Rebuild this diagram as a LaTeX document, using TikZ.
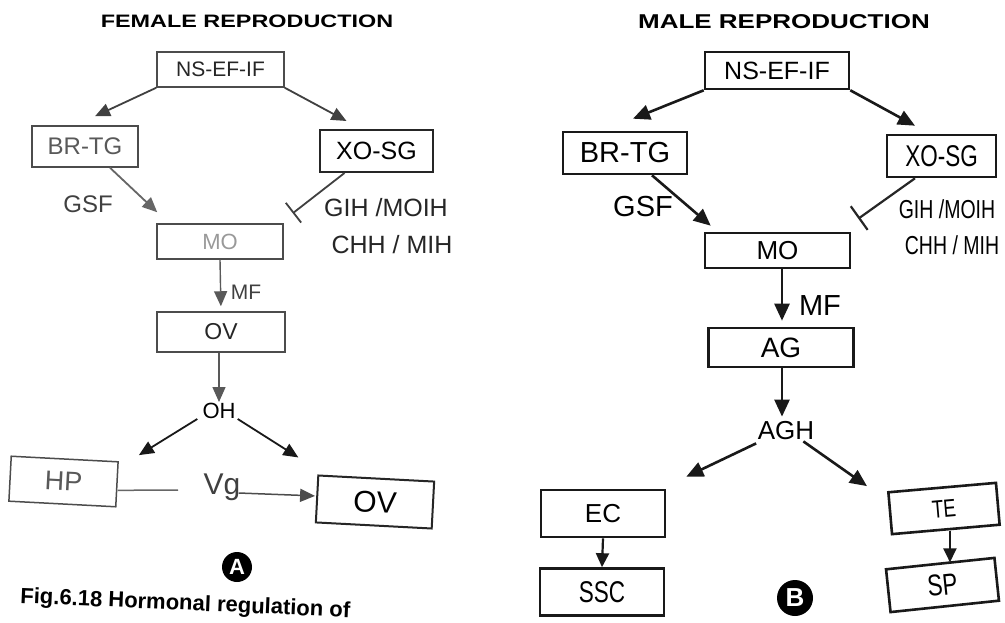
\documentclass[tikz,border=0pt]{standalone}
\usepackage{fontspec}
\setmainfont{Liberation Sans}
\newfontfamily\titlefont{Liberation Sans}[FakeStretch=1.3]
\newfontfamily\narrowfont{Liberation Sans}[FakeStretch=0.75]
\usetikzlibrary{arrows.meta,calc}
\newcommand\myfs[1]{\fontsize{#1}{#1}\selectfont}
\begin{document}
\begin{tikzpicture}[x=1pt,y=-1pt,
  fbox/.style={draw=black!70, line width=1.5pt, inner sep=0pt, text=black!85},
  mbox/.style={draw=black!90, line width=2.6pt, inner sep=0pt, text=black},
  lbl/.style={inner sep=0pt},
  farr/.style={draw=black!75, line width=1.8pt, -{Triangle[length=15pt,width=13pt]}},
  marr/.style={draw=black!90, line width=2.6pt, -{Triangle[length=17pt,width=15pt]}},
  finh/.style={draw=black!75, line width=1.8pt, -{Bar[width=25pt,line width=1.8pt]}},
  minh/.style={draw=black!85, line width=2.2pt, -{Bar[width=29pt,line width=2.2pt]}},
  badge/.style={circle, fill=black, inner sep=0pt, text=white, font=\bfseries\myfs{22}},
]
\useasboundingbox[fill=white] (0,0) rectangle (1005,623);

% ---------------- FEMALE ----------------
\node[lbl, font=\titlefont\bfseries\myfs{18}] (ftitle) at (247,21) {FEMALE REPRODUCTION};
\node[fbox, minimum width=127pt, minimum height=35pt, font=\myfs{21}] (fns) at (220.5,69.5) {NS-EF-IF};
\node[fbox, minimum width=106pt, minimum height=41pt, font=\myfs{24}, text=black!65] (fbr) at (85,146.5) {BR-TG};
\node[fbox, minimum width=113pt, minimum height=42pt, font=\myfs{25}, draw=black!85, line width=2pt, text=black] (fxo) at (376.5,151) {XO-SG};
\node[fbox, minimum width=126pt, minimum height=35pt, font=\myfs{22}, text=black!40] (fmo) at (220,241.5) {MO};
\node[fbox, minimum width=128pt, minimum height=40pt, font=\myfs{23}] (fov) at (221,332) {OV};
\node[lbl, font=\myfs{22}] (foh) at (219,411) {OH};
\node[fbox, minimum width=107pt, minimum height=45pt, font=\myfs{27}, text=black!65, rotate=-3] (fhp) at (63.5,481.5) {HP};
\node[lbl, font=\myfs{30}, text=black!75] (fvg) at (222,487) {Vg};
\node[fbox, minimum width=116pt, minimum height=47pt, font=\myfs{30}, draw=black!85, line width=2pt, text=black, rotate=-3] (fov2) at (375,502) {OV};
\node[badge, minimum size=30pt] (fA) at (237,567) {A};

\node[lbl, font=\myfs{24}, text=black!75] (fgsf) at (88,204) {GSF};
\node[lbl, font=\myfs{25}, text=black!85] (fgih) at (386,208) {GIH /MOIH};
\node[lbl, font=\myfs{25}, text=black!85] (fchh) at (392,245) {CHH / MIH};
\node[lbl, font=\myfs{21}, text=black!75] (fmf) at (246,292) {MF};

\draw[farr] (fns.south west) -- ([xshift=10pt,yshift=9pt]fbr.north);
\draw[farr] (fns.south east) -- ([xshift=-30pt,yshift=8pt]fxo.north);
\draw[farr, draw=black!60] ([xshift=25pt]fbr.south) -- ([xshift=1pt,yshift=11pt]fmo.north west);
\draw[finh] ([xshift=-32pt]fxo.south) -- ([xshift=9pt,yshift=10pt]fmo.north east);
\draw[farr, draw=black!65, line width=1.4pt, shorten >=5pt] (fmo.south) -- (fov.north);
\draw[farr, draw=black!65, line width=1.4pt, shorten >=1pt] ([xshift=-2pt]fov.south) -- ([xshift=0pt]foh.north);
\draw[farr, draw=black!90] ([xshift=-5pt]foh.south west) -- ([xshift=20pt,yshift=6pt]fhp.north east);
\draw[farr, draw=black!90] ([xshift=2pt]foh.south east) -- ([xshift=-19pt,yshift=17pt]fov2.north west);
\coordinate (fvgl) at (178,490);
\draw[draw=black!60, line width=1.5pt] ([yshift=-6pt]fhp.east) -- (fvgl);
\draw[farr, draw=black!70, line width=1.5pt] ([xshift=-2pt,yshift=-6pt]fvg.east) -- ([xshift=-1pt,yshift=3pt]fov2.west);

% ---------------- MALE ----------------
\node[lbl, font=\titlefont\bfseries\myfs{20}] (mtitle) at (784,22) {MALE REPRODUCTION};
\node[mbox, minimum width=144pt, minimum height=37pt, font=\myfs{25}] (mns) at (777,70.5) {NS-EF-IF};
\node[mbox, minimum width=124pt, minimum height=42pt, font=\myfs{29}] (mbr) at (625,153) {BR-TG};
\node[mbox, minimum width=109pt, minimum height=42pt, font=\narrowfont\myfs{30}] (mxo) at (941.5,156) {XO-SG};
\node[mbox, minimum width=145pt, minimum height=35pt, font=\myfs{26}] (mmo) at (777.5,250.5) {MO};
\node[mbox, minimum width=145pt, minimum height=39pt, font=\myfs{28}] (mag) at (781,347.5) {AG};
\node[lbl, font=\myfs{26}] (magh) at (786,431) {AGH};
\node[mbox, minimum width=124pt, minimum height=47pt, font=\myfs{26}] (mec) at (603,513.5) {EC};
\node[mbox, minimum width=124pt, minimum height=47pt, font=\narrowfont\myfs{30}] (mssc) at (602,592) {SSC};
\node[mbox, minimum width=108pt, minimum height=42pt, font=\narrowfont\myfs{25}, rotate=5] (mte) at (944,508.5) {TE};
\node[mbox, minimum width=109pt, minimum height=43pt, font=\narrowfont\myfs{30}, rotate=6] (msp) at (942.5,585) {SP};
\node[badge, minimum size=36pt, font=\bfseries\myfs{26}] (mB) at (795,598) {B};

\node[lbl, font=\myfs{29}] (mgsf) at (643,207) {GSF};
\node[lbl, font=\narrowfont\myfs{26}] (mgih) at (947,209) {GIH /MOIH};
\node[lbl, font=\narrowfont\myfs{26}] (mchh) at (952,245) {CHH / MIH};
\node[lbl, font=\myfs{29}] (mmf) at (820,306) {MF};

\draw[marr] (mns.south west) -- ([xshift=8pt,yshift=12pt]mbr.north);
\draw[marr] (mns.south east) -- ([xshift=-26.5pt,yshift=8pt]mxo.north);
\draw[marr] ([xshift=27pt]mbr.south) -- ([xshift=7pt,yshift=6pt]mmo.north west);
\draw[minh] ([xshift=-26.5pt]mxo.south) -- ([xshift=7pt,yshift=13pt]mmo.north east);
\draw[marr, shorten >=6pt] ([xshift=4.5pt]mmo.south) -- ([xshift=1pt]mag.north);
\draw[marr, shorten >=5pt] ([xshift=1pt]mag.south) -- ([xshift=-4pt]magh.north);
\draw[marr] ([xshift=-1.5pt,yshift=-3pt]magh.south west) -- ([xshift=20pt,yshift=12pt]mec.north east);
\draw[marr] ([xshift=-11pt,yshift=-1pt]magh.south east) -- ([xshift=-20pt,yshift=5pt]mte.north west);
\draw[marr, line width=2.2pt, -{Triangle[length=14pt,width=13pt]}] (mec.south) -- (mssc.north);
\coordinate (mtsp) at ([xshift=4pt]mte.south);
\draw[marr, line width=2.2pt, -{Triangle[length=14pt,width=13pt]}] (mtsp) -- (mtsp |- msp.north);

% caption
\node[lbl, anchor=base west, rotate=-2.5, font=\bfseries\myfs{22}] (cap) at (20,603) {Fig.6.18 Hormonal regulation of};
\end{tikzpicture}
\end{document}
